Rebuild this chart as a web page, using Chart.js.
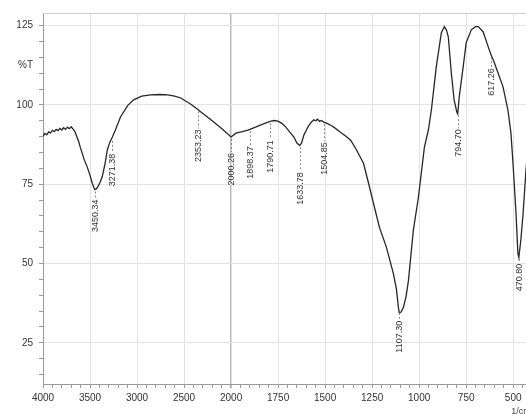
<!DOCTYPE html>
<html>
<head>
<meta charset="utf-8">
<script src="https://cdn.jsdelivr.net/npm/chart.js@4.4.1/dist/chart.umd.min.js"></script>
<style>
  html, body { margin: 0; padding: 0; background: #fff; overflow: hidden; width: 526px; height: 419px; }
  canvas { display: block; }
</style>
</head>
<body>
<canvas id="c" width="540" height="419"></canvas>
<script>
// ---- data (wavenumber in 1/cm, transmittance in %T) ----
const wavenumbers = [
  4000, 3980, 3960, 3940, 3920, 3900, 3880, 3860, 3840, 3820, 3800, 3780, 3760, 3740, 3720, 3700, 3680, 3660,
  3640, 3620, 3604, 3580, 3560, 3529, 3500, 3476, 3450, 3430, 3412, 3390, 3369, 3340, 3316, 3290, 3262, 3230,
  3176, 3100, 3037, 2950, 2856, 2760, 2674, 2600, 2535, 2428, 2353, 2321, 2214, 2107, 2000,
  1974, 1940, 1910, 1870, 1841, 1810, 1788, 1770, 1751, 1730, 1709, 1690, 1666, 1650, 1635, 1625, 1613,
  1600, 1592, 1575, 1560, 1550, 1540, 1530, 1520, 1507, 1490, 1470, 1454, 1420, 1386, 1364, 1333, 1296,
  1269, 1243, 1211, 1174, 1137, 1121, 1110, 1105, 1095, 1084, 1070, 1057, 1031, 1004, 972, 951, 935, 909,
  882, 866, 855, 845, 829, 814, 800, 795, 787, 766, 750, 723, 700, 686, 660, 633, 618, 602, 554, 528, 512,
  501, 485, 475, 470, 460, 448, 432, 420, 400
];
const transmittance = [
  90.2, 91.0, 90.6, 91.5, 91.2, 92.0, 91.6, 92.3, 91.9, 92.6, 92.1, 92.8, 92.3, 93.0, 92.5, 93.1, 92.4, 91.6,
  90.0, 88.4, 86.7, 84.5, 82.6, 80.4, 77.8, 75.3, 73.3, 73.6, 74.5, 75.8, 77.5, 81.5, 85.8, 88.2, 89.9, 92.1,
  96.2, 99.8, 101.6, 102.8, 103.2, 103.3, 103.2, 102.8, 102.2, 100.2, 98.6, 97.8, 95.3, 92.7, 89.9,
  91.1, 91.6, 92.1, 93.0, 93.7, 94.4, 94.9, 95.1, 94.9, 94.2, 93.0, 91.6, 89.9, 88.0, 87.2, 88.0, 90.5,
  92.0, 93.0, 94.5, 95.3, 95.0, 95.5, 94.8, 95.1, 94.6, 94.2, 93.6, 93.0, 91.5, 90.0, 88.9, 85.8, 81.6,
  75.3, 69.0, 61.4, 55.1, 46.8, 42.0, 36.0, 34.3, 34.8, 36.1, 39.5, 44.6, 60.4, 70.9, 86.7, 92.1, 98.4, 112.0,
  122.8, 124.7, 123.6, 121.5, 110.1, 101.6, 97.8, 97.2, 102.5, 112.0, 119.6, 123.7, 124.7, 124.7, 123.1, 118.4, 115.8, 113.6, 105.7, 98.4, 91.1,
  81.6, 65.8, 53.2, 51.9, 57.0, 65.2, 79.4, 88.0, 95.0
];
const peakWavenumbers = [3450.34, 3271.38, 2353.23, 2000.26, 1898.37, 1790.71, 1633.78, 1504.85, 1107.30, 794.70, 617.26, 470.80];
const xTickLabels = [4000, 3500, 3000, 2500, 2000, 1750, 1500, 1250, 1000, 750, 500];
const yTickLabels = [125, 100, 75, 50, 25];
const yUnitLabel = '%T';
const xUnitLabel = '1/cm';

// ---- axis with the usual FTIR scale change at 2000 1/cm ----
const BREAK = 2000;
function toAxis(w) { return w >= BREAK ? (4000 - w) / 500 : 4 + (BREAK - w) / 250; }
function fromAxis(u) { return u <= 4 ? 4000 - 500 * u : BREAK - 250 * (u - 4); }
function interpT(w) {
  for (let i = 0; i < wavenumbers.length - 1; i++) {
    const a = wavenumbers[i], b = wavenumbers[i + 1];
    if (w <= a && w >= b) {
      const f = (a - w) / (a - b);
      return transmittance[i] + f * (transmittance[i + 1] - transmittance[i]);
    }
  }
  return transmittance[transmittance.length - 1];
}

const points = wavenumbers.map((w, i) => ({ x: toAxis(w), y: transmittance[i] }));
const xMajor = xTickLabels.map(toAxis);
const FONT = 'Liberation Sans, Arial, sans-serif';

const decorations = {
  id: 'decorations',
  afterDatasetsDraw(chart, args, opts) {
    const { ctx, chartArea, scales } = chart;
    ctx.save();
    // top frame line
    ctx.strokeStyle = '#cfcfcf';
    ctx.lineWidth = 1;
    ctx.beginPath();
    ctx.moveTo(chartArea.left, chartArea.top + 0.5);
    ctx.lineTo(chartArea.right, chartArea.top + 0.5);
    ctx.stroke();

    // peak labels
    ctx.font = '9px ' + FONT;
    ctx.textBaseline = 'middle';
    ctx.textAlign = 'right';
    peakWavenumbers.forEach((w, i) => {
      const px = Math.round(scales.x.getPixelForValue(toAxis(w))) + 0.5;
      const py = scales.y.getPixelForValue(interpT(w));
      const drop = opts.drops[i];
      ctx.strokeStyle = '#888';
      ctx.setLineDash([2, 2]);
      ctx.beginPath();
      ctx.moveTo(px, py + 2);
      ctx.lineTo(px, py + drop);
      ctx.stroke();
      ctx.setLineDash([]);
      ctx.save();
      ctx.translate(px, py + drop + 1);
      ctx.rotate(-Math.PI / 2);
      ctx.fillStyle = '#333';
      ctx.fillText(w.toFixed(2), 0, 0);
      ctx.restore();
    });

    // unit label on x axis
    ctx.font = '9px ' + FONT;
    ctx.fillStyle = '#444';
    ctx.textAlign = 'left';
    ctx.textBaseline = 'middle';
    ctx.fillText(xUnitLabel, scales.x.getPixelForValue(toAxis(500)) - 2, 412);
    ctx.restore();
  }
};

new Chart(document.getElementById('c'), {
  type: 'line',
  data: {
    datasets: [{
      data: points,
      borderColor: '#262626',
      borderWidth: 1.3,
      pointRadius: 0,
      tension: 0,
      fill: false
    }]
  },
  options: {
    responsive: false,
    animation: false,
    layout: { padding: { top: 13, right: 8, left: 0, bottom: 0 } },
    plugins: {
      legend: { display: false },
      tooltip: { enabled: false },
      decorations: { drops: [9, 14, 19, 15, 16, 18, 26, 19, 9, 15, 12, 6] }
    },
    scales: {
      x: {
        type: 'linear',
        min: 0,
        max: toAxis(400),
        afterBuildTicks(scale) {
          const t = [];
          for (let i = 0; i <= 52; i++) t.push({ value: Math.round(i * 0.2 * 1000) / 1000 });
          scale.ticks = t;
        },
        afterFit(scale) { scale.height = 35; },
        ticks: {
          autoSkip: false,
          maxRotation: 0,
          padding: 4,
          color: '#333',
          font: { family: FONT, size: 10 },
          callback(v) {
            return xMajor.some(m => Math.abs(m - v) < 1e-6) ? String(Math.round(fromAxis(v))) : '';
          }
        },
        grid: {
          color(ctx) {
            const v = ctx.tick ? ctx.tick.value : null;
            if (v === null) return 'transparent';
            if (Math.abs(v - 4) < 1e-6) return '#bcbcbc';
            return xMajor.some(m => Math.abs(m - v) < 1e-6) && v > 0 ? '#e3e3e3' : 'transparent';
          },
          tickColor: '#9a9a9a',
          tickLength: 4,
          lineWidth(ctx) { return ctx.tick && Math.abs(ctx.tick.value - 4) < 1e-6 ? 1.5 : 1; }
        },
        border: { color: '#9a9a9a' }
      },
      y: {
        type: 'linear',
        min: 12,
        max: 129,
        afterBuildTicks(scale) {
          const t = [];
          for (let v = 15; v <= 125; v += 5) t.push({ value: v });
          t.push({ value: 112.5 });
          t.sort((a, b) => a.value - b.value);
          scale.ticks = t;
        },
        afterFit(scale) { scale.width = 43; },
        ticks: {
          autoSkip: false,
          padding: 6,
          color: '#333',
          font: { family: FONT, size: 10 },
          callback(v) {
            if (v === 112.5) return yUnitLabel;
            return yTickLabels.includes(v) ? String(v) : '';
          }
        },
        grid: {
          color(ctx) {
            const v = ctx.tick ? ctx.tick.value : null;
            return v !== null && yTickLabels.includes(v) ? '#e3e3e3' : 'transparent';
          },
          tickColor(ctx) {
            return ctx.tick && ctx.tick.value === 112.5 ? 'transparent' : '#9a9a9a';
          },
          tickLength: 4
        },
        border: { color: '#9a9a9a' }
      }
    }
  },
  plugins: [decorations]
});
</script>
</body>
</html>
